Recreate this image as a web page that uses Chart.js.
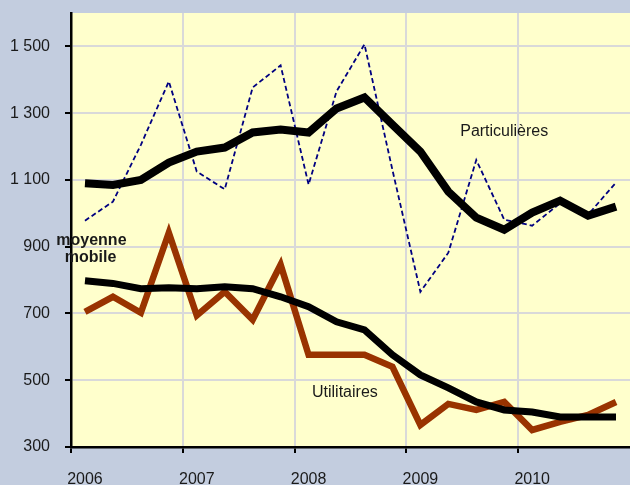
<!DOCTYPE html>
<html>
<head>
<meta charset="utf-8">
<script src="https://cdn.jsdelivr.net/npm/chart.js@4/dist/chart.umd.min.js"></script>
<style>
  body { margin: 0; background: #c3cddf; }
  canvas { display: block; }
</style>
</head>
<body>
<canvas id="chart" width="630" height="485"></canvas>
<script>
// quarters 2006 T1 .. 2010 T4
const quarters = []
for (let yr = 2006; yr <= 2010; yr++) {
    for (let q = 1; q <= 4; q++) quarters.push(yr + "T" + q)
}

const particulieres = [978, 1035, 1205, 1395, 1125, 1072, 1377, 1443, 1086, 1365,
    1506, 1130, 765, 882, 1160, 981, 963, 1030, 996, 1092]
const particulieresMoy = [1090, 1085, 1100, 1152, 1185, 1197, 1242, 1251, 1242, 1314,
    1347, 1266, 1185, 1065, 987, 951, 1002, 1038, 993, 1020]
const utilitaires = [705, 750, 702, 942, 694, 765, 681, 846, 576, 576,
    576, 540, 366, 429, 411, 435, 351, 375, 396, 435]
const utilitairesMoy = [798, 790, 774, 777, 774, 780, 774, 750, 720, 675,
    651, 576, 516, 477, 435, 411, 405, 390, 390, 390]

const yTicks = [300, 500, 700, 900, 1100, 1300, 1500]

const font = "'Liberation Sans', Arial, sans-serif"

// text labels placed in data coordinates
const notes = [
    { text: "Particulières", x: 15, y: 1245, bold: false },
    { text: "Utilitaires", x: 9.3, y: 462, bold: false },
    { text: "moyenne", x: 0.23, y: 918, bold: true },
    { text: "mobile", x: 0.2, y: 866, bold: true },
]

const plotBackground = {
    id: "plotBackground",
    beforeDraw(chart) {
        const { ctx, chartArea: a } = chart
        ctx.save()
        ctx.fillStyle = "#ffffcc"
        ctx.fillRect(a.left, a.top, a.right - a.left, a.bottom - a.top)
        ctx.restore()
    }
}

const textNotes = {
    id: "textNotes",
    afterDraw(chart) {
        const { ctx, scales } = chart
        ctx.save()
        ctx.textAlign = "center"
        ctx.textBaseline = "middle"
        ctx.fillStyle = "#1a1a1a"
        notes.forEach(n => {
            ctx.font = (n.bold ? "bold " : "") + "16px " + font
            ctx.fillText(n.text, scales.x.getPixelForValue(n.x), scales.y.getPixelForValue(n.y))
        })
        ctx.restore()
    }
}

const formatNumber = v => String(v).replace(/\B(?=(\d{3})+(?!\d))/g, " ")

new Chart(document.getElementById("chart"), {
    type: "line",
    data: {
        labels: quarters,
        datasets: [
            {
                label: "Particulières (moyenne mobile)",
                data: particulieresMoy,
                borderColor: "#000000",
                borderWidth: 8,
            },
            {
                label: "Utilitaires (moyenne mobile)",
                data: utilitairesMoy,
                borderColor: "#000000",
                borderWidth: 7,
            },
            {
                label: "Particulières",
                data: particulieres,
                borderColor: "#000080",
                borderWidth: 1.8,
                borderDash: [5, 3],
            },
            {
                label: "Utilitaires",
                data: utilitaires,
                borderColor: "#993300",
                borderWidth: 6.5,
            },
        ],
    },
    options: {
        responsive: false,
        animation: false,
        layout: { padding: { top: 13, left: 0, right: 0, bottom: 0 } },
        elements: {
            point: { radius: 0 },
            line: { tension: 0, borderJoinStyle: "miter", borderCapStyle: "butt" },
        },
        plugins: {
            legend: { display: false },
            tooltip: { enabled: false },
        },
        scales: {
            x: {
                type: "category",
                offset: true,
                grid: {
                    offset: true,
                    lineWidth: 2,
                    tickLength: 6,
                    color: ctx => ctx.index % 4 === 0 ? "#d9d9d9" : "rgba(0,0,0,0)",
                    tickColor: ctx => ctx.index % 4 === 0 ? "#000000" : "rgba(0,0,0,0)",
                },
                border: { color: "#000000", width: 2.5 },
                ticks: {
                    autoSkip: false,
                    maxRotation: 0,
                    padding: 17,
                    color: "#1a1a1a",
                    font: { family: font, size: 16 },
                    callback: (v, i) => i % 4 === 0 ? quarters[i].slice(0, 4) : "",
                },
                afterFit: s => {
                    s.height = 38
                    s.paddingLeft = 0
                    s.paddingRight = 0
                },
            },
            y: {
                min: 300,
                max: 1600,
                afterBuildTicks: s => { s.ticks = yTicks.map(v => ({ value: v })) },
                grid: {
                    lineWidth: 2,
                    tickLength: 6,
                    color: "#d9d9d9",
                    tickColor: "#000000",
                },
                border: { color: "#000000", width: 2.5 },
                ticks: {
                    padding: 15,
                    color: "#1a1a1a",
                    font: { family: font, size: 16 },
                    callback: v => formatNumber(v),
                },
                afterFit: s => {
                    s.width = 71
                    s.paddingTop = 0
                    s.paddingBottom = 0
                },
            },
        },
    },
    plugins: [plotBackground, textNotes],
})
</script>
</body>
</html>
